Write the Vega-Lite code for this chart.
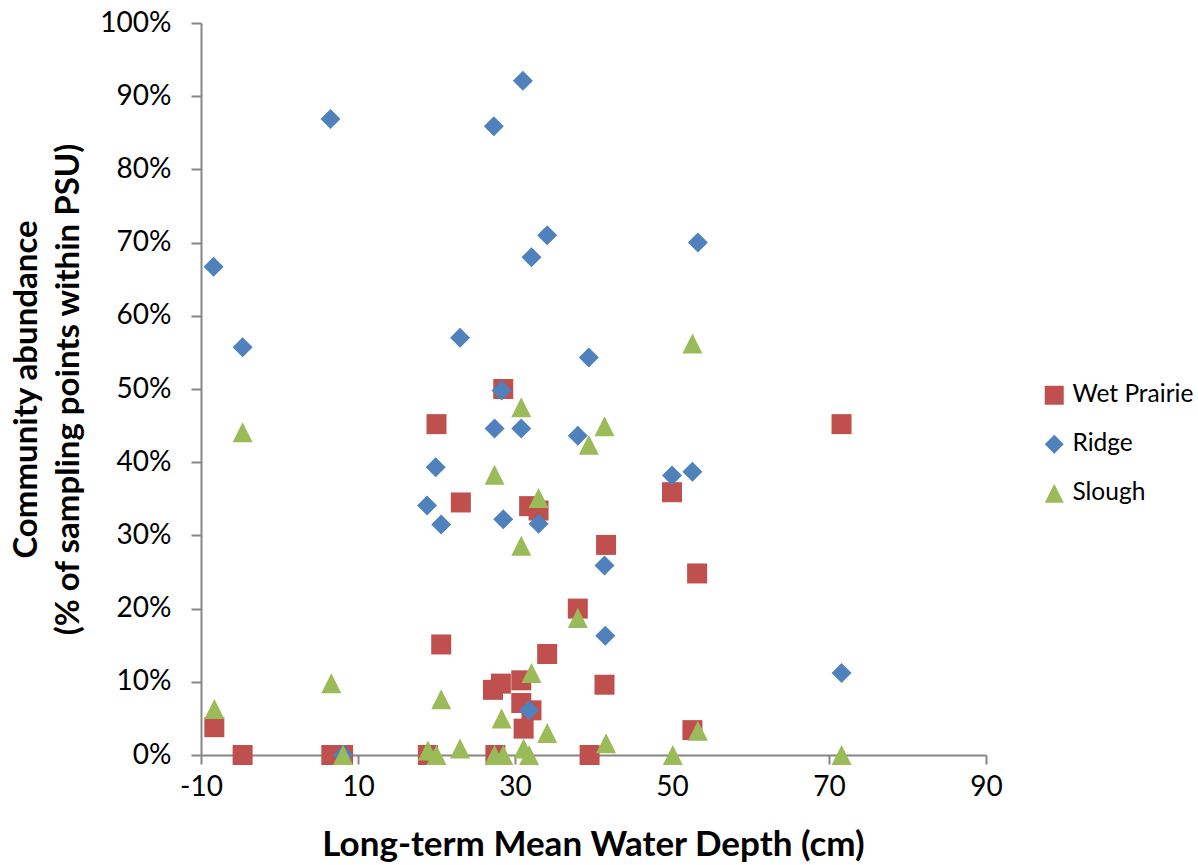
{
  "$schema": "https://vega.github.io/schema/vega-lite/v6.json",
  "width": 785,
  "height": 732,
  "autosize": "none",
  "padding": {"left": 201, "top": 23, "right": 212, "bottom": 110},
  "background": "white",
  "config": {"view": {"stroke": null}, "font": "Lato"},
  "data": {"values": [
    {"community": "Wet Prairie", "depth": -8.3, "abundance": 0.038},
    {"community": "Wet Prairie", "depth": -4.7, "abundance": 0},
    {"community": "Wet Prairie", "depth": 6.6, "abundance": 0},
    {"community": "Wet Prairie", "depth": 8.1, "abundance": 0},
    {"community": "Wet Prairie", "depth": 18.9, "abundance": 0},
    {"community": "Wet Prairie", "depth": 20.0, "abundance": 0.452},
    {"community": "Wet Prairie", "depth": 20.6, "abundance": 0.151},
    {"community": "Wet Prairie", "depth": 23.1, "abundance": 0.345},
    {"community": "Wet Prairie", "depth": 27.2, "abundance": 0.089},
    {"community": "Wet Prairie", "depth": 27.5, "abundance": 0},
    {"community": "Wet Prairie", "depth": 28.2, "abundance": 0.0975},
    {"community": "Wet Prairie", "depth": 28.5, "abundance": 0.5},
    {"community": "Wet Prairie", "depth": 30.8, "abundance": 0.102},
    {"community": "Wet Prairie", "depth": 30.8, "abundance": 0.071},
    {"community": "Wet Prairie", "depth": 31.1, "abundance": 0.036},
    {"community": "Wet Prairie", "depth": 31.8, "abundance": 0.34},
    {"community": "Wet Prairie", "depth": 32.1, "abundance": 0.061},
    {"community": "Wet Prairie", "depth": 33.0, "abundance": 0.334},
    {"community": "Wet Prairie", "depth": 34.1, "abundance": 0.138},
    {"community": "Wet Prairie", "depth": 38.0, "abundance": 0.2},
    {"community": "Wet Prairie", "depth": 39.5, "abundance": 0},
    {"community": "Wet Prairie", "depth": 41.4, "abundance": 0.096},
    {"community": "Wet Prairie", "depth": 41.6, "abundance": 0.287},
    {"community": "Wet Prairie", "depth": 50.0, "abundance": 0.359},
    {"community": "Wet Prairie", "depth": 52.6, "abundance": 0.034},
    {"community": "Wet Prairie", "depth": 53.2, "abundance": 0.248},
    {"community": "Wet Prairie", "depth": 71.6, "abundance": 0.452},
    {"community": "Ridge", "depth": -8.4, "abundance": 0.667},
    {"community": "Ridge", "depth": -4.7, "abundance": 0.557},
    {"community": "Ridge", "depth": 6.5, "abundance": 0.869},
    {"community": "Ridge", "depth": 8.1, "abundance": 0},
    {"community": "Ridge", "depth": 18.8, "abundance": 0.341},
    {"community": "Ridge", "depth": 19.9, "abundance": 0.393},
    {"community": "Ridge", "depth": 20.6, "abundance": 0.315},
    {"community": "Ridge", "depth": 23.0, "abundance": 0.57},
    {"community": "Ridge", "depth": 27.3, "abundance": 0.859},
    {"community": "Ridge", "depth": 27.4, "abundance": 0.446},
    {"community": "Ridge", "depth": 28.3, "abundance": 0.498},
    {"community": "Ridge", "depth": 28.5, "abundance": 0.322},
    {"community": "Ridge", "depth": 30.8, "abundance": 0.446},
    {"community": "Ridge", "depth": 31.0, "abundance": 0.921},
    {"community": "Ridge", "depth": 31.8, "abundance": 0.061},
    {"community": "Ridge", "depth": 32.1, "abundance": 0.68},
    {"community": "Ridge", "depth": 33.0, "abundance": 0.316},
    {"community": "Ridge", "depth": 34.1, "abundance": 0.71},
    {"community": "Ridge", "depth": 38.0, "abundance": 0.436},
    {"community": "Ridge", "depth": 39.4, "abundance": 0.543},
    {"community": "Ridge", "depth": 41.4, "abundance": 0.259},
    {"community": "Ridge", "depth": 41.5, "abundance": 0.163},
    {"community": "Ridge", "depth": 50.0, "abundance": 0.382},
    {"community": "Ridge", "depth": 52.6, "abundance": 0.387},
    {"community": "Ridge", "depth": 53.3, "abundance": 0.7},
    {"community": "Ridge", "depth": 71.6, "abundance": 0.112},
    {"community": "Slough", "depth": -8.3, "abundance": 0.063},
    {"community": "Slough", "depth": -4.7, "abundance": 0.441},
    {"community": "Slough", "depth": 6.6, "abundance": 0.098},
    {"community": "Slough", "depth": 8.1, "abundance": 0},
    {"community": "Slough", "depth": 18.9, "abundance": 0.006},
    {"community": "Slough", "depth": 20.0, "abundance": 0},
    {"community": "Slough", "depth": 20.6, "abundance": 0.076},
    {"community": "Slough", "depth": 23.0, "abundance": 0.009},
    {"community": "Slough", "depth": 27.4, "abundance": 0.383},
    {"community": "Slough", "depth": 27.4, "abundance": 0},
    {"community": "Slough", "depth": 28.3, "abundance": 0.05},
    {"community": "Slough", "depth": 28.5, "abundance": 0},
    {"community": "Slough", "depth": 30.8, "abundance": 0.475},
    {"community": "Slough", "depth": 30.8, "abundance": 0.286},
    {"community": "Slough", "depth": 31.1, "abundance": 0.009},
    {"community": "Slough", "depth": 31.8, "abundance": 0},
    {"community": "Slough", "depth": 32.1, "abundance": 0.112},
    {"community": "Slough", "depth": 33.0, "abundance": 0.351},
    {"community": "Slough", "depth": 34.1, "abundance": 0.03},
    {"community": "Slough", "depth": 38.0, "abundance": 0.187},
    {"community": "Slough", "depth": 39.4, "abundance": 0.424},
    {"community": "Slough", "depth": 41.4, "abundance": 0.449},
    {"community": "Slough", "depth": 41.6, "abundance": 0.016},
    {"community": "Slough", "depth": 50.1, "abundance": 0},
    {"community": "Slough", "depth": 52.6, "abundance": 0.562},
    {"community": "Slough", "depth": 53.3, "abundance": 0.033},
    {"community": "Slough", "depth": 71.6, "abundance": 0}
  ]},
  "mark": {"type": "point", "filled": true, "opacity": 1, "size": 400, "strokeWidth": 0},
  "encoding": {
    "x": {
      "field": "depth", "type": "quantitative",
      "scale": {"domain": [-10, 90], "nice": false, "zero": false},
      "axis": {
        "values": [-10, 10, 30, 50, 70, 90],
        "labelExpr": "'' + datum.value",
        "title": "Long-term Mean Water Depth (cm)",
        "grid": false,
        "domainColor": "#868686", "domainWidth": 2,
        "tickColor": "#868686", "tickWidth": 2, "tickSize": 9,
        "labelFontSize": 28, "labelColor": "#000000", "labelPadding": 9,
        "labelFlush": false,
        "titleFontSize": 35, "titleFontWeight": "bold", "titleColor": "#000000",
        "titleX": 392, "titleY": 100, "titleBaseline": "alphabetic", "titleAlign": "center"
      }
    },
    "y": {
      "field": "abundance", "type": "quantitative",
      "scale": {"domain": [0, 1], "nice": false},
      "axis": {
        "values": [0, 0.1, 0.2, 0.3, 0.4, 0.5, 0.6, 0.7, 0.8, 0.9, 1],
        "format": ".0%",
        "title": ["Community abundance", "(% of sampling points within PSU)"],
        "grid": false,
        "domainColor": "#868686", "domainWidth": 2,
        "tickColor": "#868686", "tickWidth": 2, "tickSize": 10,
        "labelFontSize": 28, "labelColor": "#000000", "labelPadding": 20,
        "labelFlush": false,
        "titleFontSize": 33, "titleFontWeight": "bold", "titleColor": "#000000",
        "titleAngle": -90, "titleLineHeight": 42,
        "titleX": -165, "titleY": 366, "titleBaseline": "alphabetic", "titleAlign": "center"
      }
    },
    "color": {
      "field": "community", "type": "nominal",
      "scale": {"domain": ["Wet Prairie", "Ridge", "Slough"], "range": ["#C0504D", "#4F81BD", "#9BBB59"]},
      "legend": {
        "title": null, "orient": "none", "legendX": 841, "legendY": 360,
        "labelFontSize": 24.5, "labelColor": "#000000", "labelOffset": 6,
        "symbolSize": 360, "rowPadding": 24, "padding": 0
      }
    },
    "shape": {
      "field": "community", "type": "nominal",
      "scale": {"domain": ["Wet Prairie", "Ridge", "Slough"], "range": ["square", "diamond", "M0,-1L1,1L-1,1Z"]}
    }
  }
}
